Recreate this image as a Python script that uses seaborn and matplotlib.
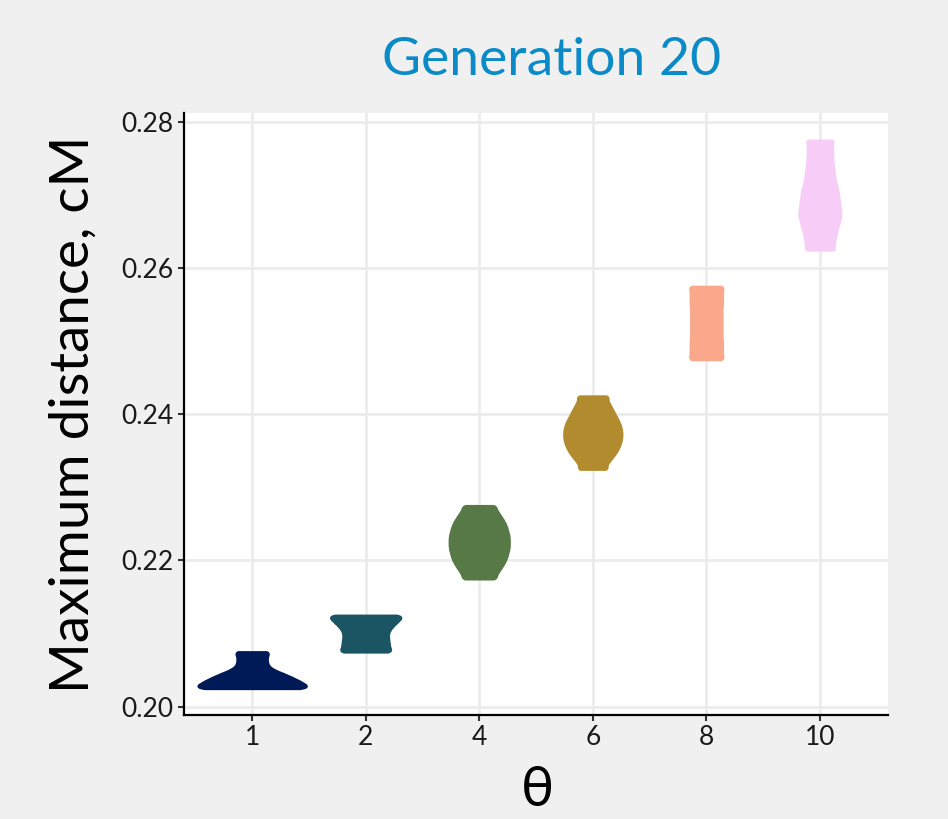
import numpy as np
import pandas as pd
import matplotlib
matplotlib.use("Agg")
import matplotlib.pyplot as plt
import seaborn as sns

# ---------------- data ----------------
categories = ["1", "2", "4", "6", "8", "10"]

vals_1 = [0.2025, 0.2030, 0.2035, 0.2040, 0.2045, 0.2050, 0.2055, 0.2060, 0.2065, 0.2070, 0.2075]
cnts_1 = [124, 116, 102, 86, 68, 48, 36, 33, 32, 33, 38]

vals_2 = [0.2075, 0.2080, 0.2085, 0.2090, 0.2095, 0.2100, 0.2105, 0.2110, 0.2115, 0.2120, 0.2125]
cnts_2 = [56, 50, 49, 48, 47, 47, 50, 56, 64, 72, 78]

vals_4 = [0.2175, 0.2180, 0.2185, 0.2190, 0.2195, 0.2200, 0.2205, 0.2210, 0.2215, 0.2220, 0.2225,
          0.2230, 0.2235, 0.2240, 0.2245, 0.2250, 0.2255, 0.2260, 0.2265, 0.2270, 0.2275]
cnts_4 = [36, 35, 40, 45, 50, 54, 57, 59, 61, 62, 62, 62, 61, 59, 57, 54, 50, 45, 40, 35, 35]

vals_6 = [0.2325, 0.2330, 0.2335, 0.2340, 0.2345, 0.2350, 0.2355, 0.2360, 0.2365, 0.2370, 0.2375,
          0.2380, 0.2385, 0.2390, 0.2395, 0.2400, 0.2405, 0.2410, 0.2415, 0.2420, 0.2425]
cnts_6 = [32, 28, 33, 39, 45, 50, 54, 57, 59, 60, 60, 59, 57, 54, 50, 46, 42, 38, 34, 30, 34]

vals_8 = [0.2475, 0.2480, 0.2485, 0.2490, 0.2495, 0.2500, 0.2505, 0.2510, 0.2515, 0.2520, 0.2525,
          0.2530, 0.2535, 0.2540, 0.2545, 0.2550, 0.2555, 0.2560, 0.2565, 0.2570, 0.2575]
cnts_8 = [39, 35, 35, 35, 35, 35, 34, 34, 34, 34, 34, 34, 34, 34, 34, 35, 35, 35, 35, 35, 39]

vals_10 = [0.2625, 0.2630, 0.2635, 0.2640, 0.2645, 0.2650, 0.2655, 0.2660, 0.2665, 0.2670, 0.2675,
           0.2680, 0.2685, 0.2690, 0.2695, 0.2700, 0.2705, 0.2710, 0.2715, 0.2720, 0.2725,
           0.2730, 0.2735, 0.2740, 0.2745, 0.2750, 0.2755, 0.2760, 0.2765, 0.2770, 0.2775]
cnts_10 = [33, 29, 30, 32, 33, 35, 37, 39, 41, 43, 44, 43, 42, 41, 40, 39, 38, 36, 34, 32, 31,
           30, 29, 28, 27, 27, 26, 26, 26, 26, 30]

group_values = [vals_1, vals_2, vals_4, vals_6, vals_8, vals_10]
group_counts = [cnts_1, cnts_2, cnts_4, cnts_6, cnts_8, cnts_10]

y_ticks = [0.20, 0.22, 0.24, 0.26, 0.28]
y_tick_labels = ["0.20", "0.22", "0.24", "0.26", "0.28"]

title_text = "Generation 20"
x_label = "θ"
y_label = "Maximum distance, cM"

# ---------------- style ----------------
colors = ["#001A57", "#1B5563", "#577946", "#B28B2E", "#F9A88B", "#F7CDF8"]
widths = [0.950, 0.615, 0.527, 0.509, 0.289, 0.368]
abs_bw = 0.0003

sns.set_style("white")
plt.rcParams["font.family"] = ["Lato", "DejaVu Sans"]

fig = plt.figure(figsize=(9.48, 8.19), dpi=100, facecolor="#F0F0F0")
ax = fig.add_axes([184 / 948, 1 - 715 / 819, 704 / 948, 602 / 819])
ax.set_facecolor("white")

for cat, vals, cnts, col, w in zip(categories, group_values, group_counts, colors, widths):
    obs = np.repeat(np.array(vals), np.array(cnts))
    df = pd.DataFrame({"theta": [cat] * len(obs), "dist": obs})
    factor = abs_bw / np.std(obs, ddof=1)
    n_before = len(ax.collections)
    sns.violinplot(data=df, x="theta", y="dist", order=categories, color=col,
                   cut=0, inner=None, density_norm="area", width=w,
                   bw_method=factor, gridsize=200, linewidth=1.8, linecolor=col,
                   saturation=1, ax=ax)
    for coll in ax.collections[n_before:]:
        coll.set_joinstyle("round")
        coll.set_edgecolor(col)
        coll.set_facecolor(col)

ax.set_xlim(-0.6, 5.6)
ax.set_ylim(0.19886, 0.28123)
ax.set_yticks(y_ticks)
ax.set_yticklabels(y_tick_labels)
ax.set_xticks(range(len(categories)))
ax.set_xticklabels(categories)
ax.set_xlabel("")
ax.set_ylabel("")

ax.grid(True, color="#EBEBEB", linewidth=1.9)
ax.xaxis.grid(True)
ax.yaxis.grid(True)
ax.set_axisbelow(True)

for s in ["top", "right"]:
    ax.spines[s].set_visible(False)
for s in ["left", "bottom"]:
    ax.spines[s].set_visible(True)
    ax.spines[s].set_color("black")
    ax.spines[s].set_linewidth(1.6)

ax.tick_params(axis="both", which="major", length=4.5, width=1.5, color="#333333",
               labelsize=19, labelcolor="#1A1A1A", pad=3, direction="out",
               left=True, bottom=True)

fig.text(552 / 948, 1 - 75 / 819, title_text, ha="center", va="baseline",
         color="#0A8BC8", fontsize=38.5)
fig.text(537 / 948, 1 - 806 / 819, x_label, ha="center", va="baseline",
         color="black", fontsize=40)
fig.text(73 / 948, 1 - 414 / 819, y_label, ha="center", va="center",
         rotation=90, color="black", fontsize=39.5)

fig.savefig("out.png", dpi=100, facecolor=fig.get_facecolor())
